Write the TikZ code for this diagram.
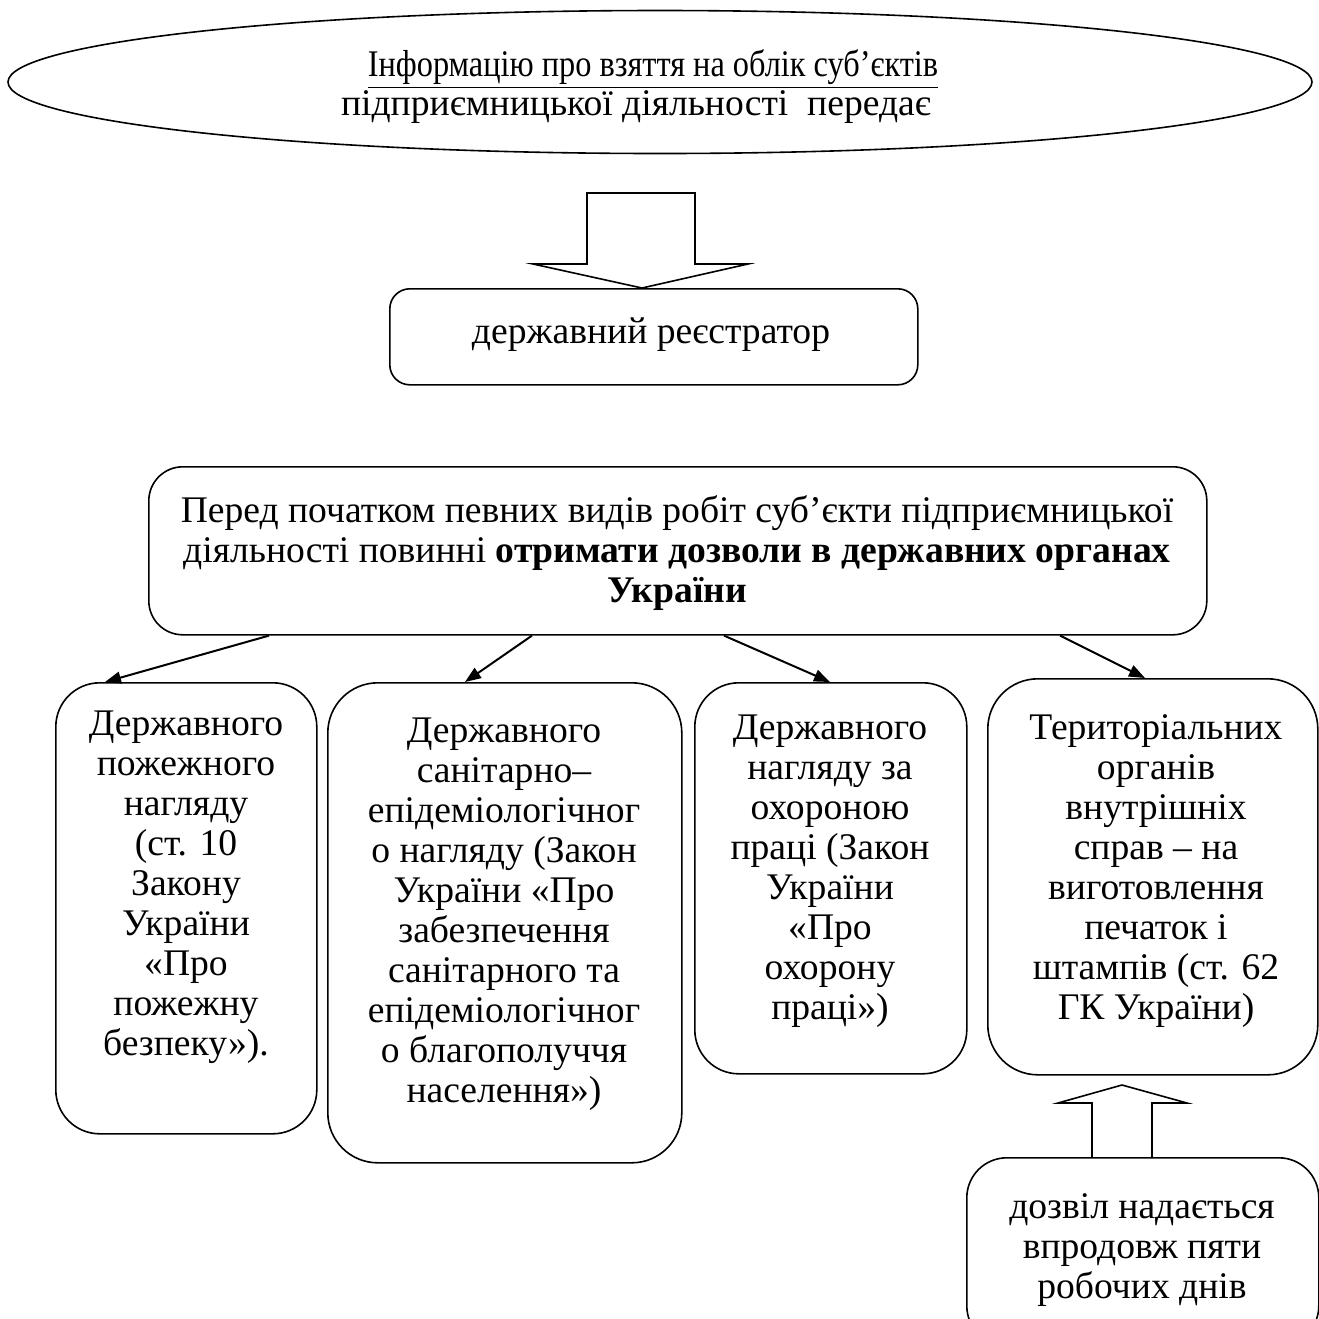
\documentclass[tikz,border=0pt]{standalone}
\usepackage{fontspec}
\usepackage{graphicx}
\setmainfont{Liberation Serif}
\usetikzlibrary{arrows.meta,calc,shapes.geometric}
\begin{document}
\begin{tikzpicture}[x=0.5pt,y=-0.5pt,
  box/.style={draw, line width=0.8pt, rounded corners=#1, inner sep=0pt, anchor=north west},
  box/.default=10pt,
  txt/.style={align=center, inner sep=0pt, font=\fontsize{18.8pt}{20pt}\selectfont, anchor=base},
  arr/.style={line width=1pt, -{Triangle[length=8pt,width=6pt]}},
  hollow/.style={draw, line width=0.8pt, line join=miter}]
\useasboundingbox (0,0) rectangle (1319,1319);

% ellipse
\node[draw, ellipse, line width=0.8pt, minimum width=652pt, minimum height=71.5pt, inner sep=0pt] (ell) at (660,82) {};
\node[txt, font=\fontsize{18.8pt}{19.5pt}\selectfont] (ellt) at (653,115) {\scalebox{0.86}[1]{\underline{Інформацію про взяття на облік суб’єктів}}\\підприємницької діяльності\ \ передає\hspace*{17pt}};

% registrar
\node[box=10pt, minimum width=264pt, minimum height=48pt] (reg) at (389,288) {};
\node[txt] (regt) at (651,343) {державний реєстратор};

% hollow down arrow
\draw[hollow] ($(reg.north west)+(198,-95)$) -- ($(reg.north west)+(306,-95)$) -- ($(reg.north west)+(306,-24)$) -- ($(reg.north west)+(359,-24)$) -- ($(reg.north west)+(253,0)$) -- ($(reg.north west)+(144,-24)$) -- ($(reg.north west)+(198,-24)$) -- cycle;

% big box
\node[box=17pt, minimum width=529pt, minimum height=84pt] (big) at (148,466) {};
\node[txt] (bigt) at (677,602) {Перед початком певних видів робіт суб’єкти підприємницької\\діяльності повинні \textbf{отримати дозволи в державних органах}\\\textbf{України}};

% lower boxes
\node[box=22pt, minimum width=130.5pt, minimum height=225.5pt] (b1) at (55,682) {};
\node[txt] (b1t) at (186,1055) {Державного\\пожежного\\нагляду\\(ст. 10\\Закону\\України\\«Про\\пожежну\\безпеку»).};

\node[box=25pt, minimum width=177pt, minimum height=240pt] (b2) at (327,682) {};
\node[txt] (b2t) at (504,1102) {Державного\\санітарно–\\епідеміологічног\\о нагляду (Закон\\України «Про\\забезпечення\\санітарного та\\епідеміологічног\\о благополуччя\\населення»)};

\node[box=22pt, minimum width=136pt, minimum height=195.5pt] (b3) at (694,682) {};
\node[txt] (b3t) at (830,1019) {Державного\\нагляду за\\охороною\\праці (Закон\\України\\«Про\\охорону\\праці»)};

\node[box=25pt, minimum width=165pt, minimum height=198pt] (b4) at (987,678) {};
\node[txt] (b4t) at (1156,1019) {Територіальних\\органів\\внутрішніх\\справ – на\\виготовлення\\печаток і\\штампів (ст. 62\\ГК України)};

\node[box=20pt, minimum width=176pt, minimum height=94pt] (b5) at (966,1157) {};
\node[txt] (b5t) at (1142,1298) {дозвіл надається\\впродовж пяти\\робочих днів};

% hollow up arrow
\draw[hollow] ($(b5.north west)+(126,0)$) -- ($(b5.north west)+(126,-54)$) -- ($(b5.north west)+(92,-54)$) -- ($(b5.north west)+(156,-72)$) -- ($(b5.north west)+(221,-54)$) -- ($(b5.north west)+(186,-54)$) -- ($(b5.north west)+(186,0)$);

% connectors
\draw[arr] ($(big.south west)+(121,0)$) -- ($(b1.north west)+(50,0)$);
\draw[arr] ($(big.south west)+(384,0)$) -- ($(b2.north west)+(138,0)$);
\draw[arr] ($(big.south west)+(576,0)$) -- ($(b3.north west)+(136,0)$);
\draw[arr] ($(big.south west)+(912,0)$) -- ($(b4.north west)+(158,0)$);
\end{tikzpicture}
\end{document}
